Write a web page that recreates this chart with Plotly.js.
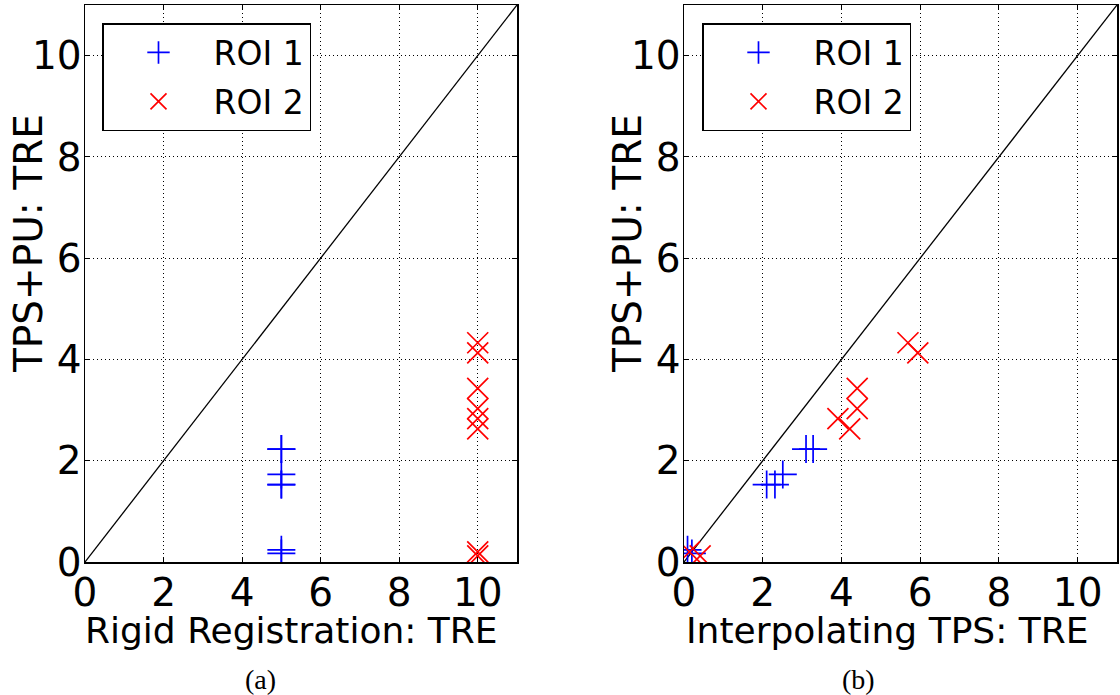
<!DOCTYPE html>
<html>
<head>
<meta charset="utf-8">
<script src="https://cdn.plot.ly/plotly-3.0.1.min.js"></script>
<style>html,body{margin:0;padding:0;background:#fff;}#plot{width:1120px;height:695px;}</style>
</head>
<body>
<div id="plot"></div>
<script>
// Data
const roi1Rigid = [5, 5, 5, 5, 5, 5, 5];
const roi1Tps   = [0.09, 0.2, 2.10, 2.31, 2.51, 3.10, 3.28];
const roi1Pu    = [0.24, 0.17, 1.53, 1.53, 1.73, 2.23, 2.23];

const roi2Rigid = [10, 10, 10, 10, 10, 10, 10, 10];
const roi2Tps   = [5.69, 5.94, 4.40, 4.40, 3.91, 4.21, 0.14, 0.41];
const roi2Pu    = [4.33, 4.13, 3.43, 3.03, 2.83, 2.63, 0.20, 0.12];

const identityLine = [0, 11];
const tickVals = [0, 2, 4, 6, 8, 10];
const seriesNames = ['ROI 1', 'ROI 2'];
const panelLabels = ['(a)', '(b)'];
const xTitles = ['Rigid Registration: TRE', 'Interpolating TPS: TRE'];
const yTitle = 'TPS+PU: TRE';

const FONT = 'DejaVu Sans, sans-serif';
const plusMarker = {symbol: 'cross-thin', size: 20, color: '#0000ff', line: {color: '#0000ff', width: 1.7}};
const xMarker = {symbol: 'x-thin', size: 21, color: '#ff0000', line: {color: '#ff0000', width: 1.7}};

const traces = [
  {x: identityLine, y: identityLine, mode: 'lines', line: {color: '#000', width: 1.3}, showlegend: false, xaxis: 'x', yaxis: 'y', hoverinfo: 'skip'},
  {x: roi1Rigid, y: roi1Pu, mode: 'markers', name: seriesNames[0], marker: plusMarker, xaxis: 'x', yaxis: 'y', legend: 'legend', legendgroup: 'r1'},
  {x: roi2Rigid, y: roi2Pu, mode: 'markers', name: seriesNames[1], marker: xMarker, xaxis: 'x', yaxis: 'y', legend: 'legend', legendgroup: 'r2'},
  {x: identityLine, y: identityLine, mode: 'lines', line: {color: '#000', width: 1.3}, showlegend: false, xaxis: 'x2', yaxis: 'y2', hoverinfo: 'skip'},
  {x: roi1Tps, y: roi1Pu, mode: 'markers', name: seriesNames[0], marker: plusMarker, xaxis: 'x2', yaxis: 'y2', legend: 'legend2', legendgroup: 'r1b'},
  {x: roi2Tps, y: roi2Pu, mode: 'markers', name: seriesNames[1], marker: xMarker, xaxis: 'x2', yaxis: 'y2', legend: 'legend2', legendgroup: 'r2b'}
];

function axis(extra) {
  return Object.assign({
    range: [0, 11], tickvals: tickVals, ticks: 'inside', ticklen: 5, tickwidth: 1, tickcolor: '#000',
    showline: true, linecolor: '#000', linewidth: 1.5, mirror: 'allticks',
    showgrid: true, gridcolor: '#000', griddash: '1px,3px', gridwidth: 1,
    zeroline: false, tickfont: {family: FONT, size: 39, color: '#000'}, automargin: false, fixedrange: true
  }, extra);
}

const legendBase = {
  yanchor: 'top', xanchor: 'left', bgcolor: '#fff', bordercolor: '#000', borderwidth: 1.5,
  font: {family: FONT, size: 33, color: '#000'}, itemwidth: 100, tracegroupgap: 3
};

const PLOT_H = 557;
function py(pix) { return (562 - pix) / PLOT_H; }
function px(pix) { return pix / 1120; }

const titleFontX = {family: FONT, size: 36, color: '#000'};
const titleFontY = {family: FONT, size: 39, color: '#000'};
const labelFont = {family: 'Liberation Serif, serif', size: 28, color: '#000'};

const layout = {
  width: 1120, height: 695,
  margin: {l: 0, r: 0, t: 5, b: 133},
  paper_bgcolor: '#fff', plot_bgcolor: '#fff',
  showlegend: true,
  xaxis: axis({domain: [px(85), px(517)], anchor: 'y', ticklabelstandoff: -4}),
  yaxis: axis({domain: [0, 1], anchor: 'x', ticklabelstandoff: -6}),
  xaxis2: axis({domain: [px(684), px(1117)], anchor: 'y2', ticklabelstandoff: -4}),
  yaxis2: axis({domain: [0, 1], anchor: 'x2', ticklabelstandoff: -6}),
  legend: Object.assign({x: px(102), y: py(23)}, legendBase),
  legend2: Object.assign({x: px(702), y: py(23)}, legendBase),
  annotations: [
    {text: xTitles[0], xref: 'paper', yref: 'paper', x: px(291), y: py(630), showarrow: false, xanchor: 'center', yanchor: 'middle', font: titleFontX},
    {text: xTitles[1], xref: 'paper', yref: 'paper', x: px(887), y: py(630), showarrow: false, xanchor: 'center', yanchor: 'middle', font: titleFontX},
    {text: yTitle, xref: 'paper', yref: 'paper', x: px(29), y: py(244), textangle: -90, showarrow: false, xanchor: 'center', yanchor: 'middle', font: titleFontY},
    {text: yTitle, xref: 'paper', yref: 'paper', x: px(628), y: py(244), textangle: -90, showarrow: false, xanchor: 'center', yanchor: 'middle', font: titleFontY},
    {text: panelLabels[0], xref: 'paper', yref: 'paper', x: px(260), y: py(679), showarrow: false, xanchor: 'center', yanchor: 'middle', font: labelFont},
    {text: panelLabels[1], xref: 'paper', yref: 'paper', x: px(858), y: py(679), showarrow: false, xanchor: 'center', yanchor: 'middle', font: labelFont}
  ]
};

Plotly.newPlot('plot', traces, layout, {displayModeBar: false, staticPlot: true});
</script>
</body>
</html>
